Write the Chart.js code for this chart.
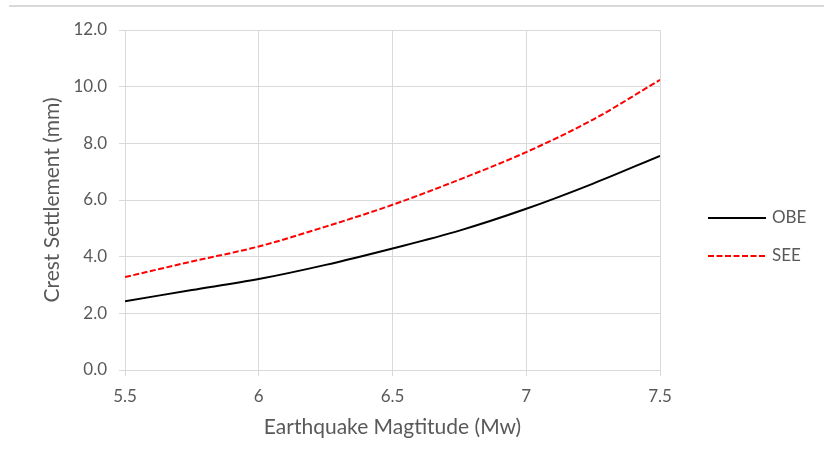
<!DOCTYPE html>
<html>
<head>
<meta charset="utf-8">
<script src="https://cdn.jsdelivr.net/npm/chart.js@4"></script>
<style>
    html, body { margin: 0; padding: 0; background: #fff; }
    #wrap { position: relative; width: 824px; height: 465px; }
    #topLine { position: absolute; left: 9px; right: 0; top: 5px; border-top: 2px solid #d9d9d9; }
</style>
</head>
<body>
<div id="wrap">
    <div id="topLine"></div>
    <canvas id="settlementChart" width="824" height="465"></canvas>
</div>
<script>
// Earthquake magnitude (Mw)
const magnitudes = [5.5, 5.75, 6.0, 6.25, 6.5, 6.75, 7.0, 7.25, 7.5];

// Crest settlement (mm)
const obeSettlement = [2.43, 2.82, 3.21, 3.71, 4.29, 4.92, 5.69, 6.58, 7.56];
const seeSettlement = [3.28, 3.83, 4.36, 5.06, 5.83, 6.72, 7.69, 8.84, 10.24];

// Axis ticks
const xTicks = [5.5, 6, 6.5, 7, 7.5];
const yTicks = [0, 2, 4, 6, 8, 10, 12];

const textColor = '#595959';
const gridColor = '#d9d9d9';
const fontFamily = 'Lato, "Open Sans", sans-serif';

function toPoints(xs, ys) {
    return xs.map((x, i) => ({ x: x, y: ys[i] }));
}

// Legend drawn at the right, Excel style (line sample + label)
const sideLegend = {
    id: 'sideLegend',
    afterDraw(chart, args, opts) {
        const ctx = chart.ctx;
        ctx.save();
        ctx.font = opts.fontSize + 'px ' + fontFamily;
        ctx.textBaseline = 'middle';
        ctx.fillStyle = textColor;
        chart.data.datasets.forEach((ds, i) => {
            const y = opts.top + i * opts.spacing;
            ctx.beginPath();
            ctx.strokeStyle = ds.borderColor;
            ctx.lineWidth = ds.borderWidth;
            ctx.setLineDash(ds.borderDash || []);
            ctx.moveTo(opts.left, y);
            ctx.lineTo(opts.left + opts.lineLength, y);
            ctx.stroke();
            ctx.fillText(ds.label, opts.left + opts.lineLength + 6, y);
        });
        ctx.restore();
    }
};

const data = {
    datasets: [
        {
            label: 'OBE',
            data: toPoints(magnitudes, obeSettlement),
            borderColor: '#000000',
            borderWidth: 2,
            pointRadius: 0,
            fill: false,
            cubicInterpolationMode: 'monotone'
        },
        {
            label: 'SEE',
            data: toPoints(magnitudes, seeSettlement),
            borderColor: '#ff0000',
            borderWidth: 2,
            borderDash: [6, 2.5],
            pointRadius: 0,
            fill: false,
            cubicInterpolationMode: 'monotone'
        }
    ]
};

const config = {
    type: 'line',
    data: data,
    plugins: [sideLegend],
    options: {
        responsive: false,
        animation: false,
        layout: {
            padding: { left: 36, top: 30, right: 164, bottom: 21 }
        },
        plugins: {
            legend: { display: false },
            tooltip: { enabled: false },
            sideLegend: { left: 708, top: 218, spacing: 38, lineLength: 58, fontSize: 17 }
        },
        scales: {
            x: {
                type: 'linear',
                min: 5.5,
                max: 7.5,
                afterBuildTicks: function(scale) {
                    scale.ticks = xTicks.map(v => ({ value: v }));
                },
                afterFit: function(scale) {
                    scale.height = 74;
                },
                ticks: {
                    color: textColor,
                    font: { family: fontFamily, size: 17 },
                    padding: 10,
                    maxRotation: 0,
                    callback: function(value) { return String(value); }
                },
                grid: { color: gridColor, lineWidth: 1, tickLength: 6, tickColor: gridColor },
                border: { color: gridColor, width: 1 },
                title: {
                    display: true,
                    text: 'Earthquake Magtitude (Mw)',
                    color: textColor,
                    font: { family: fontFamily, size: 21 },
                    padding: { top: 4, bottom: 4 }
                }
            },
            y: {
                type: 'linear',
                min: 0,
                max: 12,
                afterBuildTicks: function(scale) {
                    scale.ticks = yTicks.map(v => ({ value: v }));
                },
                afterFit: function(scale) {
                    scale.width = 89;
                },
                ticks: {
                    color: textColor,
                    font: { family: fontFamily, size: 17 },
                    padding: 12,
                    callback: function(value) { return value.toFixed(1); }
                },
                grid: { color: gridColor, lineWidth: 1, tickLength: 6, tickColor: gridColor },
                border: { color: gridColor, width: 1 },
                title: {
                    display: true,
                    text: 'Crest Settlement (mm)',
                    color: textColor,
                    font: { family: fontFamily, size: 21 },
                    padding: { top: 4, bottom: 0 }
                }
            }
        }
    }
};

const ctx = document.getElementById('settlementChart').getContext('2d');
new Chart(ctx, config);
</script>
</body>
</html>
